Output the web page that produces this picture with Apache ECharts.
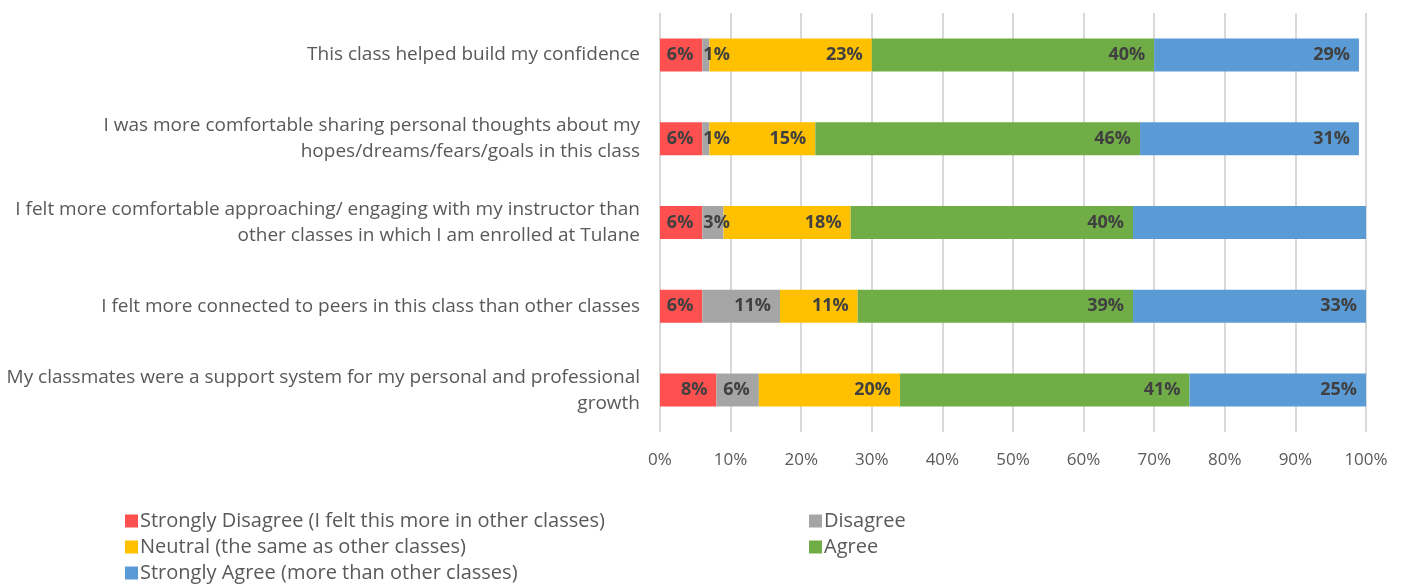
<!DOCTYPE html>
<html><head><meta charset="utf-8">
<script src="https://cdn.jsdelivr.net/npm/echarts@6/dist/echarts.min.js"></script>
<style>html,body{margin:0;padding:0;background:#fff}#c{width:1403px;height:584px}</style>
</head><body><div id="c"></div>
<script>
const categories = [
  "This class helped build my confidence",
  "I was more comfortable sharing personal thoughts about my\nhopes/dreams/fears/goals in this class",
  "I felt more comfortable approaching/ engaging with my instructor than\nother classes in which I am enrolled at Tulane",
  "I felt more connected to peers in this class than other classes",
  "My classmates were a support system for my personal and professional\ngrowth"
];
const seriesNames = [
  "Strongly Disagree (I felt this more in other classes)",
  "Disagree",
  "Neutral (the same as other classes)",
  "Agree",
  "Strongly Agree (more than other classes)"
];
const stronglyDisagree = [6, 6, 6, 6, 8];
const disagree = [1, 1, 3, 11, 6];
const neutral = [23, 15, 18, 11, 20];
const agree = [40, 46, 40, 39, 41];
const stronglyAgree = [29, 31, 33, 33, 25];
const hiddenLabels = [[4, 2]]; // [series, category] with no label shown
const xTicks = ["0%","10%","20%","30%","40%","50%","60%","70%","80%","90%","100%"];

const colors = ["#FF5050", "#A5A5A5", "#FFC000", "#70AD47", "#5B9BD5"];
const allValues = [stronglyDisagree, disagree, neutral, agree, stronglyAgree];
const FONT = "Open Sans";

const series = allValues.map((vals, si) => ({
  name: seriesNames[si],
  type: 'bar',
  stack: 'total',
  barWidth: 33,
  itemStyle: { color: colors[si] },
  label: {
    show: true, position: 'insideRight', distance: 9,
    formatter: p => p.value + '%',
    color: '#404040', fontWeight: 'bold', fontSize: 18, fontFamily: FONT
  },
  data: vals.map((v, ci) => {
    const hide = hiddenLabels.some(h => h[0] === si && h[1] === ci);
    if (hide) return { value: v, label: { show: false } };
    if (v < 5) return { value: v, label: { position: 'insideLeft', distance: 1 } };
    return v;
  })
}));

const legendText = { color: '#595959', fontSize: 20, lineHeight: 20, fontFamily: FONT, padding: [0,0,0,-3] };
const chart = echarts.init(document.getElementById('c'));
chart.setOption({
  animation: false,
  textStyle: { fontFamily: FONT },
  grid: { left: 660, right: 37, top: 13, bottom: 152, containLabel: false },
  xAxis: {
    type: 'value', min: 0, max: 100, interval: 10,
    axisLine: { show: false }, axisTick: { show: false },
    splitLine: { show: true, lineStyle: { color: '#D9D9D9', width: 2 } },
    axisLabel: { formatter: v => xTicks[v / 10], color: '#595959', fontSize: 17, margin: 20, fontFamily: FONT }
  },
  yAxis: {
    type: 'category', inverse: true, data: categories,
    axisLine: { show: false }, axisTick: { show: false },
    axisLabel: { color: '#595959', fontSize: 19, margin: 20, lineHeight: 26, align: 'right', fontFamily: FONT }
  },
  legend: [
    {
      data: [seriesNames[0], seriesNames[2], seriesNames[4]],
      orient: 'vertical', left: 120, top: 506, height: 100, itemGap: 6,
      itemWidth: 13, itemHeight: 13, icon: 'rect',
      textStyle: legendText
    },
    {
      data: [seriesNames[1], seriesNames[3]],
      orient: 'vertical', left: 804, top: 506, height: 100, itemGap: 6,
      itemWidth: 13, itemHeight: 13, icon: 'rect',
      textStyle: legendText
    }
  ],
  series: series
});
</script></body></html>
